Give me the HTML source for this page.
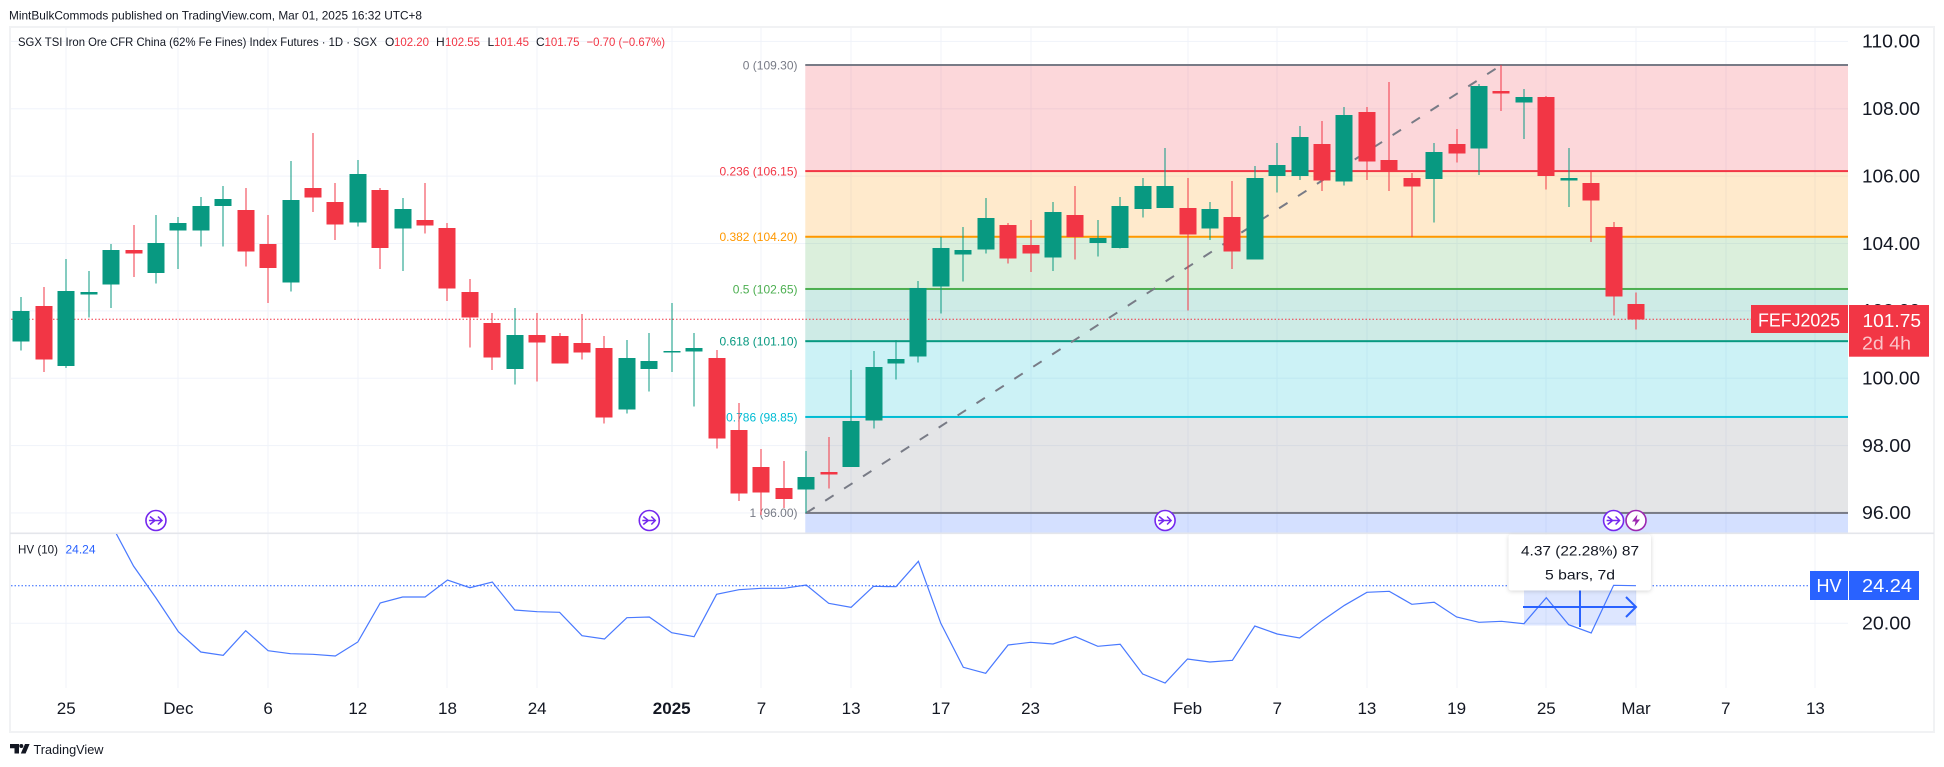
<!DOCTYPE html>
<html lang="en">
<head>
<meta charset="utf-8">
<title>SGX TSI Iron Ore CFR China Index Futures chart</title>
<style>
html,body{margin:0;padding:0;background:#fff;width:1944px;height:767px;overflow:hidden}
svg{display:block;font-family:"Liberation Sans",sans-serif}
</style>
</head>
<body>
<svg id="chart" xmlns="http://www.w3.org/2000/svg" width="1944" height="767" viewBox="0 0 1944 767">
  <defs>
    <clipPath id="hv-clip"><rect x="10" y="534" width="1838" height="154"></rect></clipPath>
    <filter id="tip-shadow" x="-10%" y="-10%" width="120%" height="125%"><feDropShadow dx="0" dy="1" stdDeviation="2" flood-color="#000" flood-opacity="0.16"></feDropShadow></filter>
  </defs>
  <text x="9" y="19.5" font-size="12" fill="#131722" textLength="413" lengthAdjust="spacingAndGlyphs">MintBulkCommods published on TradingView.com, Mar 01, 2025 16:32 UTC+8</text>
  <rect x="10" y="27" width="1924" height="705" fill="none" stroke="#f1f2f4" stroke-width="2"></rect>
  <g id="grid"></g>
  <g id="fib"></g>
  <line id="lastLine" x1="11" x2="1751" stroke="#f23645" stroke-width="1" stroke-dasharray="1.5 2"></line>
  <g id="candles"></g>
  <rect x="10" y="532.5" width="1924" height="1.6" fill="#e4e6eb"></rect>
  <g id="events"></g>

  <text x="18" y="46" font-size="12" fill="#131722" textLength="359" lengthAdjust="spacingAndGlyphs">SGX TSI Iron Ore CFR China (62% Fe Fines) Index Futures · 1D · SGX</text>
  <text x="385" y="46" font-size="12" fill="#131722">O</text>
  <text x="394" y="46" font-size="12" fill="#f23645" textLength="35" lengthAdjust="spacingAndGlyphs">102.20</text>
  <text x="436" y="46" font-size="12" fill="#131722">H</text>
  <text x="445" y="46" font-size="12" fill="#f23645" textLength="35" lengthAdjust="spacingAndGlyphs">102.55</text>
  <text x="487.5" y="46" font-size="12" fill="#131722">L</text>
  <text x="494" y="46" font-size="12" fill="#f23645" textLength="35" lengthAdjust="spacingAndGlyphs">101.45</text>
  <text x="536" y="46" font-size="12" fill="#131722">C</text>
  <text x="544.5" y="46" font-size="12" fill="#f23645" textLength="35" lengthAdjust="spacingAndGlyphs">101.75</text>
  <text x="586.5" y="46" font-size="12" fill="#f23645" textLength="78.5" lengthAdjust="spacingAndGlyphs">−0.70 (−0.67%)</text>

  <line id="hvLast" x1="11" x2="1810" stroke="#2962ff" stroke-width="1" stroke-dasharray="1.5 2"></line>
  <g>
    <rect x="1524" y="586" width="112" height="39.5" fill="#2962ff" fill-opacity="0.16"></rect>
    <line x1="1523" x2="1636" y1="607" y2="607" stroke="#2962ff" stroke-width="2"></line>
    <polyline points="1626,597 1636,607 1626,617" fill="none" stroke="#2962ff" stroke-width="2"></polyline>
    <line x1="1580" x2="1580" y1="590" y2="627" stroke="#2962ff" stroke-width="2"></line>
    <rect x="1508.5" y="534.5" width="142.5" height="56" rx="3" fill="#fff" filter="url(#tip-shadow)"></rect>
    <text x="1580" y="555.5" font-size="14" fill="#131722" text-anchor="middle" textLength="118" lengthAdjust="spacingAndGlyphs">4.37 (22.28%) 87</text>
    <text x="1580" y="579.5" font-size="14" fill="#131722" text-anchor="middle" textLength="70" lengthAdjust="spacingAndGlyphs">5 bars, 7d</text>
  </g>
  <path id="hvLine" clip-path="url(#hv-clip)" fill="none" stroke="#2962ff" stroke-opacity="0.85" stroke-width="1.2"></path>
  <text x="18" y="553.5" font-size="12" fill="#131722" textLength="40" lengthAdjust="spacingAndGlyphs">HV (10)</text>
  <text x="65.5" y="553.5" font-size="12" fill="#2962ff" textLength="30" lengthAdjust="spacingAndGlyphs">24.24</text>

  <g id="priceAxis"></g>
  <g id="hvAxis"></g>
  <g id="timeAxis"></g>

  <rect x="1751" y="305" width="97" height="28" fill="#f23645"></rect>
  <text x="1758" y="326.5" font-size="18" fill="#fff" textLength="82" lengthAdjust="spacingAndGlyphs">FEFJ2025</text>
  <rect x="1849" y="305" width="80" height="51.7" fill="#f23645"></rect>
  <text x="1862.5" y="327" font-size="18.5" fill="#fff" textLength="58.5" lengthAdjust="spacingAndGlyphs">101.75</text>
  <text x="1862" y="349.5" font-size="18" fill="#fbc4c9" textLength="49" lengthAdjust="spacingAndGlyphs">2d 4h</text>
  <rect x="1810" y="571" width="38" height="29" fill="#2962ff"></rect>
  <text x="1816.5" y="592" font-size="18" fill="#fff" textLength="25" lengthAdjust="spacingAndGlyphs">HV</text>
  <rect x="1849" y="571" width="70" height="29" fill="#2962ff"></rect>
  <text x="1862" y="592" font-size="18" fill="#fff" textLength="50" lengthAdjust="spacingAndGlyphs">24.24</text>

  <g>
    <path fill="#131722" d="M10 744h9v9.5h-4.5v-5.3H10z"></path>
    <circle cx="21.3" cy="746" r="2" fill="#131722"></circle>
    <path fill="#131722" d="M25 744h4.6l-4 9.5h-4.8z"></path>
    <text x="33.5" y="754" font-size="13" fill="#131722" textLength="70" lengthAdjust="spacingAndGlyphs">TradingView</text>
  </g>
</svg>
<script>
// ----- chart data -----
const opens=[101.09,102.15,100.37,102.48,102.78,103.81,103.13,104.38,104.38,105.12,104.99,103.99,102.84,105.65,105.23,104.62,105.59,104.44,104.70,104.46,102.56,101.64,100.28,101.28,101.25,101.05,100.90,99.07,100.28,100.79,100.79,100.60,98.46,97.37,96.74,96.69,97.22,97.37,98.74,100.43,100.64,102.72,103.67,103.82,104.55,103.96,103.58,104.85,104.02,103.87,105.03,105.06,105.05,104.44,104.79,103.52,106.01,106.00,106.95,105.84,107.90,106.48,105.95,105.92,106.95,106.82,108.53,108.18,108.35,105.87,105.80,104.49,102.20];
const highs=[102.41,102.71,103.54,103.19,103.99,104.55,104.85,104.79,105.38,105.71,105.65,104.85,106.45,107.28,105.80,106.48,105.65,105.35,105.80,104.61,102.95,101.94,102.09,101.94,101.34,101.91,101.25,101.14,101.34,102.23,101.34,100.84,99.26,97.90,97.54,97.84,98.26,100.25,100.81,101.14,102.89,104.19,104.49,105.35,104.61,104.70,105.23,105.71,104.70,105.38,105.95,106.84,105.95,105.23,105.86,106.30,106.98,107.49,107.64,108.05,108.05,108.80,106.09,106.98,107.40,108.74,109.30,108.59,108.38,106.84,106.15,104.64,102.55];
const lows=[100.82,100.19,100.31,101.80,102.09,103.01,102.81,103.25,103.91,103.91,103.31,102.24,102.57,104.94,104.11,104.50,103.25,103.19,104.29,102.30,100.91,100.25,99.81,99.90,100.43,100.55,98.65,98.95,99.60,100.19,99.16,97.91,96.36,95.94,96.15,96.00,96.72,97.37,98.50,99.96,100.46,101.92,102.87,103.70,103.40,103.16,103.19,103.52,103.61,103.85,104.77,105.06,102.01,104.11,103.25,103.52,105.51,105.89,105.56,105.72,105.89,105.56,104.20,104.62,106.40,106.04,107.94,107.11,105.60,105.09,104.05,101.86,101.45];
const closes=[102.00,100.55,102.59,102.56,103.81,103.70,104.02,104.61,105.11,105.32,103.76,103.28,105.29,105.36,104.56,106.06,103.87,105.02,104.53,102.66,101.80,100.61,101.28,101.06,100.43,100.76,98.83,100.60,100.51,100.81,100.90,98.21,96.57,96.60,96.42,97.07,97.14,98.73,100.33,100.57,102.68,103.87,103.81,104.76,103.55,103.70,104.94,104.20,104.16,105.11,105.71,105.71,104.26,105.02,103.76,105.95,106.33,107.16,105.87,107.82,106.43,106.15,105.69,106.72,106.67,108.68,108.45,108.35,106.01,105.95,105.27,102.42,101.75];
const hvValues=[null,null,null,null,31.2,26.46,22.85,19.05,16.76,16.39,19.17,16.91,16.57,16.51,16.31,17.89,22.29,22.97,22.97,24.88,24.01,24.66,21.50,21.31,21.24,18.60,18.23,20.63,20.71,18.94,18.49,23.27,23.79,23.95,23.95,24.32,22.25,21.80,24.17,24.13,26.99,20.00,15.04,14.36,17.55,17.86,17.67,18.49,17.41,17.63,14.28,13.27,15.98,15.64,15.83,19.70,18.79,18.34,20.29,22.03,23.49,23.61,22.14,22.37,20.71,20.11,20.23,19.95,22.89,19.84,18.91,24.28,24.24];
const timeLabels=["25","Dec","6","12","18","24","2025","7","13","17","23","Feb","7","13","19","25","Mar","7","13"];
const timeBars=[2,7,11,15,19,23,29,33,37,41,45,52,56,60,64,68,72,76,80];
const priceTicks=[110,108,106,104,102,100,98,96];
const hvTicks=[20];
const fibRatios=["0","0.236","0.382","0.5","0.618","0.786","1"];
const fibPrices=[109.30,106.15,104.20,102.65,101.10,98.85,96.00];
const fibColors=["#787b86","#f23645","#ff9800","#4caf50","#089981","#00bcd4","#787b86"];
const eventBars=[6,28,51,71];
const lightningBars=[72];
const lastPrice=101.75;
const lastHv=24.24;
const fibStartBar=35;
const fibEndBar=66;

// ----- axis functions -----
const NS='http://www.w3.org/2000/svg';
const xOf=i=>21.4+22.425*i;
const yOf=p=>65+(109.3-p)*33.68;
const hvY=v=>623.3-(v-20)*8.87;
const snap=v=>Math.round(v);
function mk(parent,tag,attrs,text){
  const el=document.createElementNS(NS,tag);
  for(const k in attrs) el.setAttribute(k,attrs[k]);
  if(text!==undefined) el.textContent=text;
  parent.appendChild(el);
  return el;
}
const gridG=document.getElementById('grid');
const fibG=document.getElementById('fib');
const candleG=document.getElementById('candles');
const eventG=document.getElementById('events');
const priceG=document.getElementById('priceAxis');
const hvAxisG=document.getElementById('hvAxis');
const timeG=document.getElementById('timeAxis');

// grid + axes
priceTicks.forEach(t=>{
  const y=yOf(t);
  const g=mk(gridG,'rect',{x:11,y:y-0.5,width:1837,height:1,fill:'#f0f3fa'});
  
  
  const l=mk(priceG,'text',{x:1862,y:y+6.3,'font-size':18,fill:'#131722',textLength:t>=100?58:49,lengthAdjust:'spacingAndGlyphs'},t.toFixed(2));
  
  
});
hvTicks.forEach(t=>{
  const y=hvY(t);
  const g=mk(gridG,'rect',{x:11,y:y-0.5,width:1837,height:1,fill:'#f0f3fa'});
  
  
  const l=mk(hvAxisG,'text',{x:1862,y:y+6.3,'font-size':18,fill:'#131722',textLength:49,lengthAdjust:'spacingAndGlyphs'},t.toFixed(2));
  
  
});
timeLabels.forEach((t,k)=>{
  const x=xOf(timeBars[k]);
  const g=mk(gridG,'rect',{x:snap(x)-0.5,y:28,width:1,height:660,fill:'#f0f3fa'});
  
  
  const l=mk(timeG,'text',{x:x,y:714,'font-size':17,fill:'#131722','text-anchor':'middle','font-weight':t==='2025'?'bold':'normal'},t);
  
  
});

// fibonacci
const fibX=xOf(fibStartBar)-1;
const fibRight=1848;
fibPrices.forEach((p,k)=>{
  if(k===0) return;
  const y0=yOf(fibPrices[k-1]);
  const y1=yOf(p);
  const b=mk(fibG,'rect',{x:fibX,y:y0,width:fibRight-fibX,height:y1-y0,fill:fibColors[k],'fill-opacity':0.2});
  
  
});
const lowBand=mk(fibG,'rect',{x:fibX,y:yOf(fibPrices[6]),width:fibRight-fibX,height:533-yOf(fibPrices[6]),fill:'#2962ff','fill-opacity':0.2});


fibPrices.forEach((p,k)=>{
  const y=yOf(p);
  const ln=mk(fibG,'rect',{x:fibX,y:y-1,width:fibRight-fibX,height:2,fill:fibColors[k]});
  
  
  const tx=mk(fibG,'text',{x:797.5,y:y+4.3,'font-size':12,fill:fibColors[k],'text-anchor':'end'},fibRatios[k]+' ('+p.toFixed(2)+')');
  
  
});
const trend=mk(fibG,'line',{x1:xOf(fibStartBar),y1:yOf(fibPrices[6]),x2:xOf(fibEndBar),y2:yOf(fibPrices[0]),stroke:'#787b86','stroke-width':2,'stroke-dasharray':'10 12.5'});



// last value lines
document.getElementById('lastLine').setAttribute('y1',yOf(lastPrice));
document.getElementById('lastLine').setAttribute('y2',yOf(lastPrice));
document.getElementById('hvLast').setAttribute('y1',hvY(lastHv));
document.getElementById('hvLast').setAttribute('y2',hvY(lastHv));

// candles
opens.forEach((o,i)=>{
  const c=closes[i];
  const col=c>=o?'#089981':'#f23645';
  const cx=snap(xOf(i));
  const g=mk(candleG,'g',{});
  
  
  const hy=yOf(highs[i]);
  const ly=yOf(lows[i]);
  const wick=mk(g,'rect',{x:cx-0.5,y:hy,width:1,height:ly-hy,fill:col,'shape-rendering':'crispEdges'});
  
  
  const ty=yOf(Math.max(o,c));
  const by=yOf(Math.min(o,c));
  const body=mk(g,'rect',{x:cx-8.5,y:ty,width:17,height:Math.max(by-ty,1.5),fill:col,'shape-rendering':'crispEdges'});
  
  
});

// event markers
eventBars.forEach(i=>{
  const cx=xOf(i);
  const g=mk(eventG,'g',{transform:'translate('+cx+',520.5)'});
  
  
  const ring=mk(g,'circle',{r:10,fill:'#fff',stroke:'#7427ee','stroke-width':1.6});
  
  
  const glyph=mk(g,'path',{d:'M-6 -4L-1 0L-6 4M-7 0H6M2 -4L6 0L2 4',fill:'none',stroke:'#7427ee','stroke-width':1.5});
  
  
});
lightningBars.forEach(i=>{
  const cx=xOf(i);
  const g=mk(eventG,'g',{transform:'translate('+cx+',520.5)'});
  
  
  const ring=mk(g,'circle',{r:10,fill:'#fff',stroke:'#9c27b0','stroke-width':1.6});
  
  
  const bolt=mk(g,'polygon',{points:'1.5,-6 -4,1 -0.5,1 -1.5,6 4,-1 0.5,-1',fill:'#9c27b0'});
  
  
});

// hv line
let hvPath='';
hvValues.forEach((v,i)=>{
  if(v===null) return;
  hvPath+=(hvPath?'L':'M')+xOf(i).toFixed(1)+' '+hvY(v).toFixed(1);
});
document.getElementById('hvLine').setAttribute('d',hvPath);
</script>
</body>
</html>
